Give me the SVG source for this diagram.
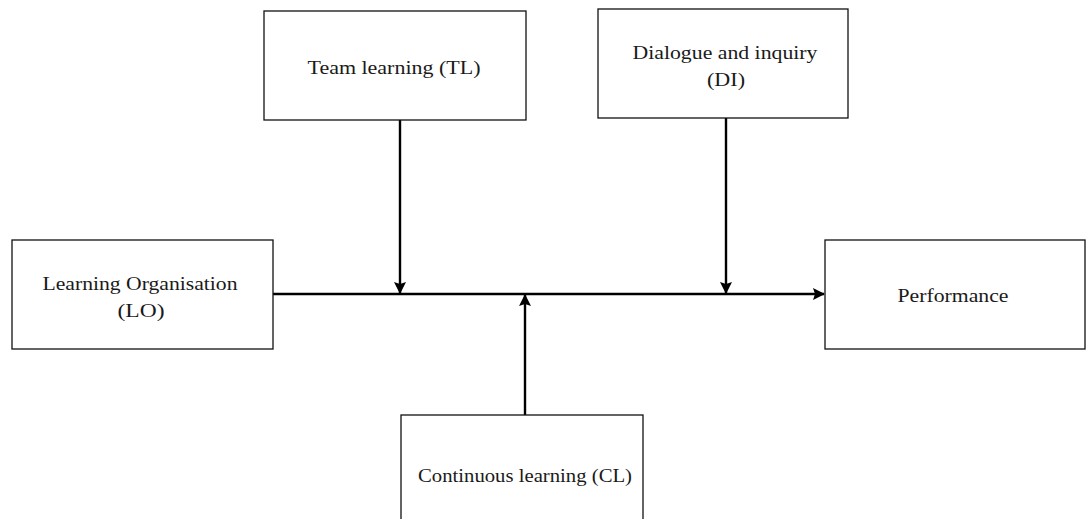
<svg xmlns="http://www.w3.org/2000/svg" width="1086" height="519" viewBox="0 0 1086 519">
  <style>
    .box { fill: #ffffff; stroke: #111111; stroke-width: 1.3; }
    .label { font-family: "Liberation Serif", "Times New Roman", serif; font-size: 19px; fill: #1a1a1a; text-anchor: middle; }
    .conn { stroke: #000000; stroke-width: 2.4; fill: none; }
  </style>
  <defs>
    <marker id="arrow" markerWidth="12" markerHeight="12" refX="11" refY="6" orient="auto" markerUnits="userSpaceOnUse">
      <path d="M0,0 L12,6 L0,12 L2,6 Z" fill="#000000"/>
    </marker>
  </defs>
  <rect width="1086" height="519" fill="#ffffff"/>

  <g id="connectors">
    <line class="conn" x1="273" y1="294" x2="824" y2="294" marker-end="url(#arrow)"/>
    <line class="conn" x1="400" y1="120" x2="400" y2="293" marker-end="url(#arrow)"/>
    <line class="conn" x1="726" y1="118" x2="726" y2="293" marker-end="url(#arrow)"/>
    <line class="conn" x1="525" y1="415" x2="525" y2="295" marker-end="url(#arrow)"/>
  </g>

  <g id="node-tl">
    <rect class="box" x="264" y="11" width="262" height="109"/>
    <text class="label" x="394" y="74" textLength="173" lengthAdjust="spacingAndGlyphs">Team learning (TL)</text>
  </g>

  <g id="node-di">
    <rect class="box" x="598" y="9" width="250" height="109"/>
    <text class="label" x="725" y="59" textLength="185" lengthAdjust="spacingAndGlyphs">Dialogue and inquiry</text>
    <text class="label" x="726" y="86" textLength="38" lengthAdjust="spacingAndGlyphs">(DI)</text>
  </g>

  <g id="node-lo">
    <rect class="box" x="12" y="240" width="261" height="109"/>
    <text class="label" x="140" y="290" textLength="195" lengthAdjust="spacingAndGlyphs">Learning Organisation</text>
    <text class="label" x="141" y="317" textLength="47" lengthAdjust="spacingAndGlyphs">(LO)</text>
  </g>

  <g id="node-performance">
    <rect class="box" x="825" y="240" width="260" height="109"/>
    <text class="label" x="953" y="302" textLength="111" lengthAdjust="spacingAndGlyphs">Performance</text>
  </g>

  <g id="node-cl">
    <rect class="box" x="401" y="415" width="242" height="110"/>
    <text class="label" x="525" y="482" textLength="214" lengthAdjust="spacingAndGlyphs">Continuous learning (CL)</text>
  </g>
</svg>
